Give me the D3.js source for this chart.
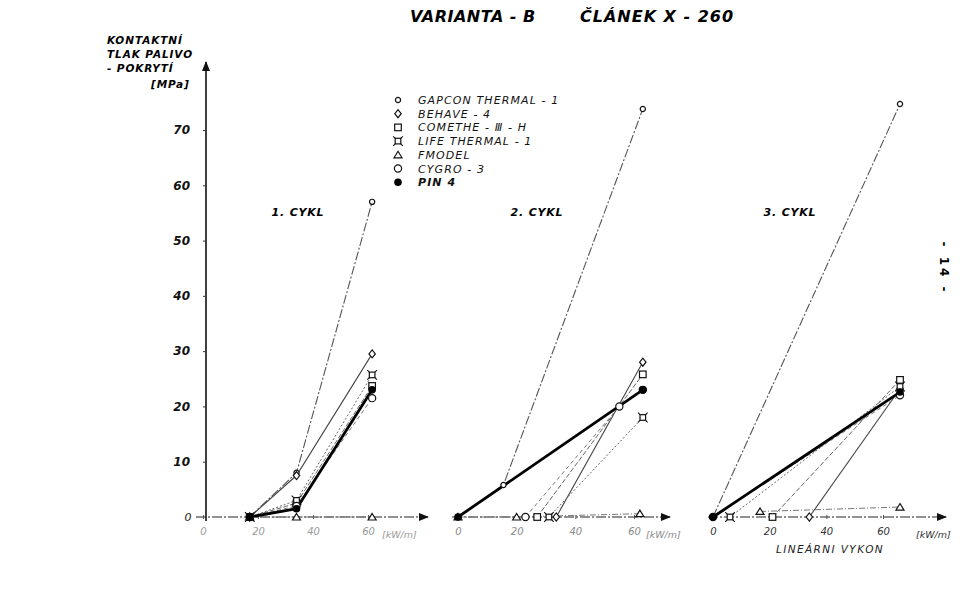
<!DOCTYPE html>
<html><head><meta charset="utf-8">
<script src="https://cdn.jsdelivr.net/npm/d3@7"></script>
<style>body{margin:0;background:#fff}svg{display:block}</style>
</head><body>
<svg id="c" width="960" height="605"></svg>
<script>
// ---------- data ----------
const seriesNames = ["GAPCON THERMAL - 1","BEHAVE - 4","COMETHE - Ⅲ - H","LIFE THERMAL - 1","FMODEL","CYGRO - 3","PIN 4"];
const seriesMarkers = ["circleSmall","diamond","square","life","triangle","circleLarge","dot"];
const cycleNames = ["1. CYKL","2. CYKL","3. CYKL"];
const yTicks = [0,10,20,30,40,50,60,70];
const xTicks = [0,20,40,60];
// [linear power kW/m, contact pressure MPa] per series, in seriesNames order
const cycle1 = [
  [[17,0],[34,8],[61.5,57]],
  [[17,0],[34,7.5],[61.5,29.5]],
  [[17,0],[34,2.5],[61.5,23.7]],
  [[17,0],[34,3],[61.5,25.7]],
  [[17,0],[34,0],[61.5,0]],
  [[17,0],[34,2],[61.5,21.5]],
  [[17,0],[34,1.5],[61.5,23]]
];
const cycle2 = [
  [[0,0],[15.5,5.8],[63,73.8]],
  [[33.5,0],[63,28]],
  [[27,0],[63,25.8]],
  [[31,0],[63,18]],
  [[0,0],[20,0],[62,0.6]],
  [[23,0],[55,20],[63,23]],
  [[0,0],[63,23]]
];
const cycle3 = [
  [[0,0],[66,74.7]],
  [[34,0],[66,23.2]],
  [[21,0],[66,24.8]],
  [[6,0],[66,23.6]],
  [[16.6,1],[66,1.8]],
  [[0,0],[66,22]],
  [[0,0],[66,22.6]]
];

// ---------- layout ----------
const svg = d3.select("#c");
const FONT = "'DejaVu Sans', sans-serif";
const y = d3.scaleLinear().domain([0,70]).range([517,130]);

const defs = svg.append("defs");
defs.append("marker").attr("id","arr").attr("viewBox","0 0 10 8")
  .attr("refX",9).attr("refY",4).attr("markerWidth",10).attr("markerHeight",8)
  .attr("markerUnits","userSpaceOnUse").attr("orient","auto")
  .append("path").attr("d","M0,0L10,4L0,8z").attr("fill","#111");

const panels = [
  {data: cycle1, x: d3.scaleLinear().domain([0,60]).range([203,368]), a0: 196, a1: 428, lx: 298, unitX: 382, tick:"#9a9a9a"},
  {data: cycle2, x: d3.scaleLinear().domain([0,60]).range([458,634]), a0: 452, a1: 670, lx: 537, unitX: 646, tick:"#8a8a8a"},
  {data: cycle3, x: d3.scaleLinear().domain([0,60]).range([713,883]), a0: 708, a1: 946, lx: 790, unitX: 916, tick:"#333"}
];

const lineStyles = [
  {c:"#555", w:1.1, d:"9,2,2,2"},
  {c:"#444", w:1.1, d:null},
  {c:"#666", w:1, d:"5,2"},
  {c:"#666", w:1, d:"2,2"},
  {c:"#777", w:1, d:"6,2,1,2"},
  {c:"#777", w:1, d:"4,3"},
  {c:"#000", w:2.8, d:null}
];

function drawMarker(g, type, cx, cy){
  const s = g.append("g").attr("transform",`translate(${cx},${cy})`);
  const st = {fill:"#fff", stroke:"#111", "stroke-width":1.2};
  const ap = (el)=>{Object.entries(st).forEach(([k,v])=>el.attr(k,v)); return el;};
  switch(type){
    case "circleSmall": ap(s.append("circle").attr("r",2.6)); break;
    case "circleLarge": ap(s.append("circle").attr("r",3.6)); break;
    case "diamond": ap(s.append("path").attr("d","M0,-4L3.2,0L0,4L-3.2,0Z")); break;
    case "square": ap(s.append("rect").attr("x",-3.3).attr("y",-3.3).attr("width",6.6).attr("height",6.6)); break;
    case "triangle": ap(s.append("path").attr("d","M0,-3.5L4,3L-4,3Z")); break;
    case "life":
      ap(s.append("rect").attr("x",-2.8).attr("y",-2.8).attr("width",5.6).attr("height",5.6));
      s.append("path").attr("d","M-2.8,-2.8l-2,-2M2.8,-2.8l2,-2M-2.8,2.8l-2,2M2.8,2.8l2,2")
        .attr("stroke","#111").attr("stroke-width",1.1);
      break;
    case "dot": s.append("circle").attr("r",3.8).attr("fill","#000"); break;
  }
}

// ---------- title ----------
svg.append("text").attr("x",410).attr("y",22).attr("font-family",FONT).attr("font-size",16)
  .attr("font-style","italic").attr("font-weight","bold").attr("letter-spacing",0.5).text("VARIANTA - B");
svg.append("text").attr("x",580).attr("y",22).attr("font-family",FONT).attr("font-size",16)
  .attr("font-style","italic").attr("font-weight","bold").attr("letter-spacing",1).text("ČLÁNEK  X - 260");

// ---------- y axis title ----------
const yt = svg.append("g").attr("font-family",FONT).attr("font-size",10.5).attr("font-weight","bold")
  .attr("font-style","italic").attr("letter-spacing",0.9);
yt.append("text").attr("x",107).attr("y",44).text("KONTAKTNÍ");
yt.append("text").attr("x",107).attr("y",58).text("TLAK PALIVO");
yt.append("text").attr("x",107).attr("y",72).text("- POKRYTÍ");
yt.append("text").attr("x",151).attr("y",88).text("[MPa]");

// ---------- y axis ----------
svg.append("line").attr("x1",206).attr("x2",206).attr("y1",y(0)+4).attr("y2",62)
  .attr("stroke","#111").attr("stroke-width",1.6).attr("marker-end","url(#arr)");
const yAxis = svg.append("g").attr("transform","translate(206,0)")
  .call(d3.axisLeft(y).tickValues(yTicks.filter(v=>v>0)).tickSize(3).tickPadding(13).tickFormat(d3.format("d")));
yAxis.select(".domain").remove();
yAxis.selectAll("line").attr("stroke","#333");
yAxis.selectAll("text").attr("font-family",FONT).attr("font-size",12).attr("font-weight","bold")
  .attr("font-style","italic").attr("fill","#111");
svg.append("text").attr("x",188).attr("y",y(0)+4).attr("text-anchor","middle").attr("font-family",FONT)
  .attr("font-size",11).attr("font-style","italic").attr("fill","#222").text(yTicks[0]);

// ---------- legend ----------
const lg = svg.append("g");
seriesNames.forEach((n,i)=>{
  const yy = 100 + i*13.7;
  drawMarker(lg, seriesMarkers[i], 398, yy);
  lg.append("text").attr("x",418).attr("y",yy+4).attr("font-family",FONT).attr("font-size",11)
    .attr("font-style","italic").attr("font-weight", i===6 ? "bold":"normal")
    .attr("letter-spacing",1.1).attr("fill","#111").text(n);
});

// ---------- panels ----------
panels.forEach((p,pi)=>{
  const g = svg.append("g");
  g.append("line").attr("x1",p.a0).attr("x2",p.a1).attr("y1",y(0)).attr("y2",y(0))
    .attr("stroke","#222").attr("stroke-width",1.2).attr("stroke-dasharray","10,2,2,2")
    .attr("marker-end","url(#arr)");
  const xa = g.append("g").attr("transform",`translate(0,${y(0)})`)
    .call(d3.axisBottom(p.x).tickValues(xTicks).tickSize(2).tickPadding(9).tickFormat(d3.format("d")));
  xa.select(".domain").remove();
  xa.selectAll("line").attr("stroke","#555").attr("y1",-2);
  xa.selectAll("text").attr("font-family",FONT).attr("font-size",10).attr("font-style","italic")
    .attr("fill",p.tick);
  g.append("text").attr("x",p.unitX).attr("y",y(0)+21).attr("font-family",FONT).attr("font-size",9.5)
    .attr("font-style","italic").attr("fill",p.tick).text("[kW/m]");
  g.append("text").attr("x",p.lx).attr("y",216).attr("text-anchor","middle").attr("font-family",FONT)
    .attr("font-size",11).attr("font-weight","bold").attr("font-style","italic").attr("letter-spacing",0.8)
    .text(cycleNames[pi]);
  const line = d3.line().x(d=>p.x(d[0])).y(d=>y(d[1]));
  p.data.forEach((ser,si)=>{
    const ls = lineStyles[si];
    g.append("path").attr("d",line(ser)).attr("fill","none").attr("stroke",ls.c)
      .attr("stroke-width",ls.w).attr("stroke-dasharray",ls.d);
  });
  p.data.forEach((ser,si)=>{
    ser.forEach(pt=>drawMarker(g, seriesMarkers[si], p.x(pt[0]), y(pt[1])));
  });
});

// ---------- bottom axis title ----------
svg.append("text").attr("x",830).attr("y",553).attr("text-anchor","middle").attr("font-family",FONT)
  .attr("font-size",10.5).attr("font-style","italic").attr("letter-spacing",1.4).attr("fill","#222")
  .text("LINEÁRNI   VYKON");

// ---------- page number ----------
svg.append("text").attr("transform","translate(940,268) rotate(90)").attr("text-anchor","middle")
  .attr("font-family",FONT).attr("font-size",12).attr("font-weight","bold").attr("letter-spacing",3)
  .text("- 14 -");
</script>
</body></html>
